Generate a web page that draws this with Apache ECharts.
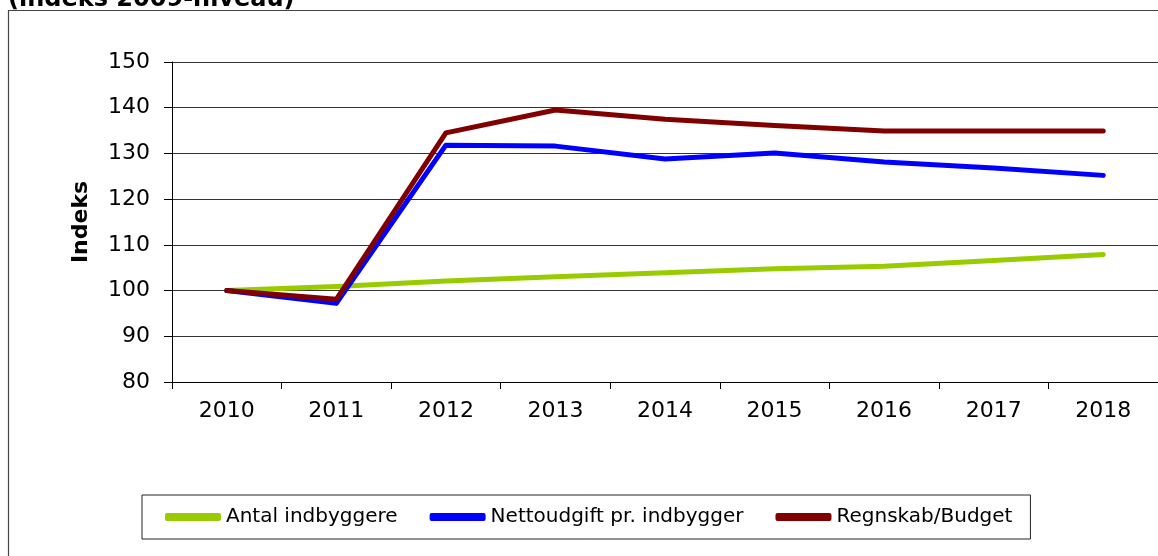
<!DOCTYPE html>
<html>
<head>
<meta charset="utf-8">
<script src="https://cdn.jsdelivr.net/npm/echarts@6/dist/echarts.min.js"></script>
<style>
    html, body { margin: 0; padding: 0; background: #fff; }
    #chart { width: 1158px; height: 556px; }
</style>
</head>
<body>
<div id="chart"></div>
<script>
const years = ["2010", "2011", "2012", "2013", "2014", "2015", "2016", "2017", "2018"];
const antalIndbyggere = [100, 100.9, 102.1, 103, 103.9, 104.8, 105.3, 106.6, 107.9];
const nettoudgift = [100, 97.2, 131.8, 131.6, 128.8, 130.1, 128.1, 126.8, 125.2];
const regnskabBudget = [100, 98.1, 134.5, 139.5, 137.5, 136.1, 134.9, 134.9, 134.9];

const font = "DejaVu Sans";

const chart = echarts.init(document.getElementById("chart"));
const option = {
    animation: false,
    textStyle: { fontFamily: font },
    graphic: [
        {
            type: "rect",
            shape: { x: 8.5, y: 10.5, width: 1170, height: 560 },
            style: { fill: "none", stroke: "#444", lineWidth: 1.2 }
        },
        {
            type: "text",
            left: 8,
            top: -12,
            style: {
                text: "(indeks 2009-niveau)",
                font: "bold 24px " + font,
                fill: "#000"
            }
        }
    ],
    grid: { left: 172, top: 62, width: 990, height: 320 },
    legend: {
        left: 142,
        top: 495,
        padding: [12, 18, 12, 23],
        borderColor: "#222",
        borderWidth: 1,
        itemWidth: 56,
        itemHeight: 8,
        itemGap: 32,
        icon: "roundRect",
        textStyle: { fontFamily: font, fontSize: 20, color: "#000" },
        data: ["Antal indbyggere", "Nettoudgift pr. indbygger", "Regnskab/Budget"]
    },
    xAxis: {
        type: "category",
        data: years,
        boundaryGap: true,
        axisLine: { lineStyle: { color: "#000", width: 1 } },
        axisTick: { show: true, alignWithLabel: false, interval: 0, length: 7, lineStyle: { color: "#000", width: 1 } },
        axisLabel: { fontFamily: font, fontSize: 22, color: "#000", margin: 18, interval: 0 }
    },
    yAxis: {
        type: "value",
        min: 80,
        max: 150,
        interval: 10,
        name: "Indeks",
        nameLocation: "middle",
        nameGap: 80,
        nameTextStyle: { fontFamily: font, fontSize: 22, fontWeight: "bold", color: "#000" },
        axisLine: { show: true, lineStyle: { color: "#000", width: 1 } },
        axisTick: { show: true, length: 8, lineStyle: { color: "#000" } },
        axisLabel: { fontFamily: font, fontSize: 22, color: "#000", margin: 22 },
        splitLine: { lineStyle: { color: "#333", width: 1 } }
    },
    series: [
        {
            name: "Antal indbyggere",
            type: "line",
            data: antalIndbyggere,
            symbol: "none",
            color: "#99cc00",
            lineStyle: { width: 5, cap: "round", join: "round" }
        },
        {
            name: "Nettoudgift pr. indbygger",
            type: "line",
            data: nettoudgift,
            symbol: "none",
            color: "#0000ff",
            lineStyle: { width: 5, cap: "round", join: "round" }
        },
        {
            name: "Regnskab/Budget",
            type: "line",
            data: regnskabBudget,
            symbol: "none",
            color: "#800000",
            lineStyle: { width: 5, cap: "round", join: "round" }
        }
    ]
};
chart.setOption(option);
</script>
</body>
</html>
